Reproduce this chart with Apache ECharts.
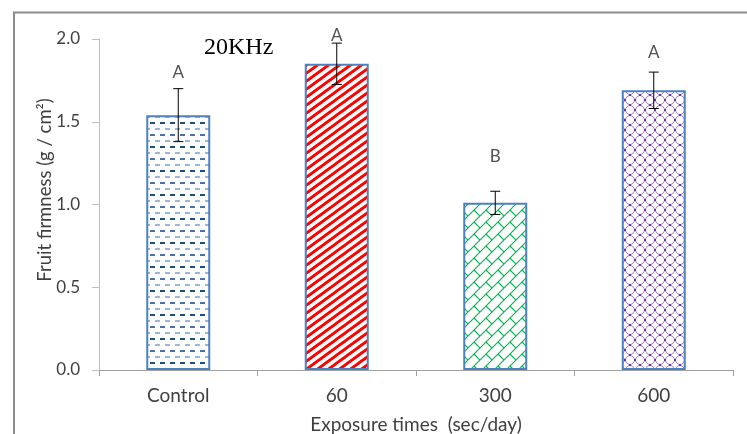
<!DOCTYPE html>
<html>
<head>
<meta charset="utf-8">
<script src="https://cdn.jsdelivr.net/npm/echarts@6/dist/echarts.min.js"></script>
<style>
html,body{margin:0;padding:0;background:#fff;}
#chart{width:747px;height:434px;}
</style>
</head>
<body>
<div id="chart"></div>
<script>
// ---- data ----
const categories = ['Control', '60', '300', '600'];
const firmness = [1.54, 1.85, 1.01, 1.69];
const errors = [0.16, 0.125, 0.07, 0.11];
const letters = ['A', 'A', 'B', 'A'];
const letterY = [1.80, 2.02, 1.29, 1.92];
const yTicks = [0, 0.5, 1.0, 1.5, 2.0];
const yTitle = 'Fruit firmness (g / cm²)';
const xTitle = 'Exposure times  (sec/day)';

// ---- fill patterns ----
function tile(w, h, draw) {
  const c = document.createElement('canvas');
  c.width = w; c.height = h;
  const ctx = c.getContext('2d');
  ctx.fillStyle = '#ffffff';
  ctx.fillRect(0, 0, w, h);
  draw(ctx, w, h);
  return c;
}
function diagLines(ctx, w, h) {
  // parallel "/" lines, extended beyond the tile so the tiles join seamlessly
  for (let k = -2; k <= 2; k++) {
    ctx.beginPath();
    ctx.moveTo(k * w - w, 2 * h);
    ctx.lineTo(k * w + 2 * w, -h);
    ctx.stroke();
  }
}
const patControl = tile(10, 24, (ctx) => {
  const rows = [['#1f4e79', 0], ['#9db5d8', 5], ['#4a72a8', 0], ['#9db5d8', 5]];
  rows.forEach((r, k) => {
    ctx.fillStyle = r[0];
    const y = k * 6 + 2;
    ctx.fillRect(r[1], y, 5, 2);
  });
});
const patRed = tile(11, 8, (ctx, w, h) => {
  ctx.strokeStyle = '#ff0000';
  ctx.lineWidth = 3;
  diagLines(ctx, w, h);
});
const patGreen = tile(12, 12, (ctx, w, h) => {
  ctx.strokeStyle = '#00b050';
  ctx.lineWidth = 1.1;
  diagLines(ctx, w, h);
  ctx.beginPath();
  ctx.moveTo(6, 6); ctx.lineTo(12, 12);
  ctx.moveTo(-6, 6); ctx.lineTo(0, 12);
  ctx.moveTo(6, -6); ctx.lineTo(12, 0);
  ctx.stroke();
});
const patPurple = tile(10, 10, (ctx) => {
  ctx.strokeStyle = '#a47fd4';
  ctx.lineWidth = 1;
  ctx.beginPath();
  ctx.moveTo(0, 5); ctx.quadraticCurveTo(3.8, 3.8, 5, 0);
  ctx.quadraticCurveTo(6.2, 3.8, 10, 5);
  ctx.quadraticCurveTo(6.2, 6.2, 5, 10);
  ctx.quadraticCurveTo(3.8, 6.2, 0, 5);
  ctx.stroke();
  ctx.fillStyle = '#7030a0';
  [[0, 5], [5, 0], [10, 5], [5, 10]].forEach(p => ctx.fillRect(p[0] - 1, p[1] - 1, 2, 2));
});
const patterns = [patControl, patRed, patGreen, patPurple];

const chart = echarts.init(document.getElementById('chart'), null, {renderer: 'canvas'});
const txt = '#404040';
const fam = 'Lato, "Noto Sans", sans-serif';

chart.setOption({
  animation: false,
  backgroundColor: '#ffffff',
  grid: {left: 99, right: 14, top: 39, bottom: 64, outerBoundsMode: 'none', containLabel: false},
  xAxis: {
    type: 'category',
    data: categories,
    name: xTitle,
    nameLocation: 'middle',
    nameGap: 45,
    nameTextStyle: {color: txt, fontFamily: fam, fontSize: 19},
    axisLine: {lineStyle: {color: '#a0a0a0', width: 1}},
    axisTick: {show: true, length: 6, lineStyle: {color: '#a0a0a0'}},
    axisLabel: {color: txt, fontFamily: fam, fontSize: 19, margin: 16}
  },
  yAxis: {
    type: 'value',
    min: 0, max: 2, interval: 0.5,
    axisLine: {show: true, lineStyle: {color: '#bfbfbf', width: 1}},
    axisTick: {show: true, length: 7, lineStyle: {color: '#bfbfbf'}},
    splitLine: {show: false},
    axisLabel: {
      color: txt, fontFamily: fam, fontSize: 17, margin: 19,
      formatter: (v) => yTicks.indexOf(v) >= 0 ? v.toFixed(1) : ''
    }
  },
  graphic: [
    {type: 'polyline', silent: true, z: 0,
     shape: {points: [[14, 434], [14, 12.5], [747, 12.5]]},
     style: {stroke: '#8c8c8c', lineWidth: 2, fill: null}},
    {type: 'text', left: 204, top: 36, silent: true,
     style: {text: '20KHz', font: '24px "Liberation Serif", "Times New Roman", serif', fill: '#000'}},
    {type: 'text', x: 45, y: 190, rotation: Math.PI / 2, silent: true,
     style: {text: yTitle, font: '18.5px Lato, "Noto Sans", sans-serif', fill: txt,
             align: 'center', verticalAlign: 'middle'}}
  ],
  series: [
    {
      type: 'bar',
      barWidth: 64,
      data: firmness.map((v, i) => ({
        value: v,
        itemStyle: {color: {image: patterns[i], repeat: 'repeat'}}
      })),
      itemStyle: {borderColor: '#4f81bd', borderWidth: 2}
    },
    {
      type: 'custom',
      clip: false,
      z: 5,
      data: firmness.map((v, i) => [i, v, errors[i]]),
      renderItem: (params, api) => {
        const i = api.value(0), v = api.value(1), e = api.value(2);
        const top = api.coord([i, v + e]);
        const bot = api.coord([i, v - e]);
        const hw = 5;
        const st = {stroke: '#000', lineWidth: 1};
        return {
          type: 'group',
          children: [
            {type: 'line', shape: {x1: top[0], y1: top[1], x2: bot[0], y2: bot[1]}, style: st},
            {type: 'line', shape: {x1: top[0] - hw, y1: top[1], x2: top[0] + hw, y2: top[1]}, style: st},
            {type: 'line', shape: {x1: bot[0] - hw, y1: bot[1], x2: bot[0] + hw, y2: bot[1]}, style: st}
          ]
        };
      }
    },
    {
      type: 'scatter',
      clip: false,
      symbolSize: 0,
      z: 6,
      data: letterY.map((y, i) => [i, y]),
      label: {
        show: true, position: 'inside',
        formatter: (p) => letters[p.dataIndex],
        color: '#262626', fontFamily: fam, fontSize: 17
      }
    }
  ]
});
</script>
</body>
</html>
